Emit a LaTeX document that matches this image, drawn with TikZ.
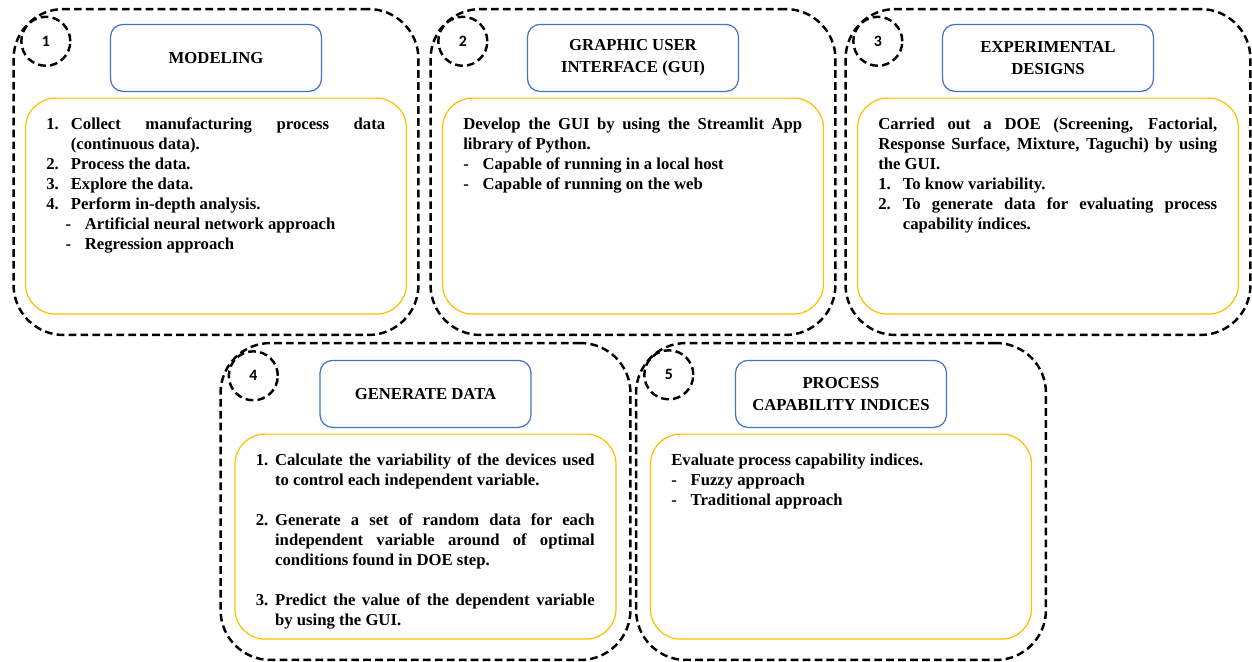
\documentclass[tikz,border=0pt]{standalone}
\usepackage{fontspec}
\setmainfont{Liberation Serif}
\newfontfamily\numfont{Carlito}
\usepackage{xcolor}
\usepackage{tikz}
\usetikzlibrary{positioning}
\definecolor{titleblue}{HTML}{4472C4}
\definecolor{boxgold}{HTML}{FFC000}
% list line with a hanging label
\newcommand{\itm}[3][14pt]{%
  \hangindent=#1\hangafter=1\noindent\makebox[#1][l]{#2}#3\par}
\newcommand{\gap}{\vspace{\baselineskip}}
\tikzset {
  % dashed outer frame of a step
  panel/.style={draw, line width=1.4pt, dash pattern=on 4.4pt off 2.4pt, rounded corners=1cm},
  toppanel/.style={panel, minimum width=8.1cm, minimum height=6.52cm},
  botpanel/.style={panel, minimum width=8.2cm, minimum height=6.34cm},
  % dashed circle with the step number
  num/.style={draw, circle, line width=1.4pt, dash pattern=on 4.4pt off 2.4pt, minimum size=0.98cm,
    inner sep=0pt, font=\numfont\bfseries\fontsize{9}{10}\selectfont},
  % blue heading box
  title/.style={draw=titleblue, line width=0.7pt, rounded corners=0.25cm, minimum width=4.22cm,
    minimum height=1.34cm, align=center, font=\bfseries\fontsize{9.5}{12.5}\selectfont},
  % gold box for the description
  body/.style={draw=boxgold, line width=0.7pt, rounded corners=0.6cm, minimum width=7.62cm},
  topbody/.style={body, minimum height=4.32cm},
  botbody/.style={body, minimum height=4.1cm},
  txt/.style={text width=6.78cm, inner sep=0pt, anchor=base west, align=justify,
    font=\bfseries\fontsize{9.5}{11.4}\selectfont},
}

\begin{document}
\begin{tikzpicture}[x=0.02cm, y=-0.02cm]
  \useasboundingbox (0,0) rectangle (1252,662);

  % step 1
  \node[toppanel] (p1) at (216,172) {};
  \node[num] (n1) at ([xshift=0.67cm, yshift=-0.67cm]p1.north west) {1};
  \node[title, below=0.32cm of p1.north] (t1) {MODELING};
  \node[topbody, below=0.11cm of t1] (b1) {};
  \node[txt] (x1) at ([xshift=0.42cm, yshift=-0.63cm]b1.north west) {%
    \itm{1.}{Collect manufacturing process data \linebreak (continuous data).}
    \itm{2.}{Process the data.}
    \itm{3.}{Explore the data.}
    \itm{4.}{Perform in-depth analysis.}
    \itm[22pt]{\hspace*{11pt}-}{Artificial neural network approach}
    \itm[22pt]{\hspace*{11pt}-}{Regression approach}};

  % step 2
  \node[toppanel] (p2) at (633,172) {};
  \node[num] (n2) at ([xshift=0.67cm, yshift=-0.67cm]p2.north west) {2};
  \node[title, below=0.32cm of p2.north] (t2) {GRAPHIC USER\\INTERFACE (GUI)};
  \node[topbody, below=0.11cm of t2] (b2) {};
  \node[txt] (x2) at ([xshift=0.42cm, yshift=-0.63cm]b2.north west) {%
    Develop the GUI by using the Streamlit App \linebreak library of Python.\par
    \itm[11pt]{-}{Capable of running in a local host}
    \itm[11pt]{-}{Capable of running on the web}};

  % step 3
  \node[toppanel] (p3) at (1048,172) {};
  \node[num] (n3) at ([xshift=0.67cm, yshift=-0.67cm]p3.north west) {3};
  \node[title, below=0.32cm of p3.north] (t3) {EXPERIMENTAL\\DESIGNS};
  \node[topbody, below=0.11cm of t3] (b3) {};
  \node[txt] (x3) at ([xshift=0.42cm, yshift=-0.63cm]b3.north west) {%
    Carried out a DOE (Screening, Factorial, \linebreak Response Surface, Mixture, Taguchi) by using \linebreak the GUI.\par
    \itm{1.}{To know variability.}
    \itm{2.}{To generate data for evaluating process \linebreak capability índices.}};

  % step 4
  \node[botpanel] (p4) at (425.5,501.5) {};
  \node[num] (n4) at ([xshift=0.68cm, yshift=-0.68cm]p4.north west) {4};
  \node[title, below=0.36cm of p4.north] (t4) {GENERATE DATA};
  \node[botbody, below=0.11cm of t4] (b4) {};
  \node[txt] (x4) at ([xshift=0.42cm, yshift=-0.63cm]b4.north west) {%
    \itm[11pt]{1.}{Calculate the variability of the devices used \linebreak to control each independent variable.}
    \gap
    \itm[11pt]{2.}{Generate a set of random data for each \linebreak independent variable around of optimal \linebreak conditions found in DOE step.}
    \gap
    \itm[11pt]{3.}{Predict the value of the dependent variable \linebreak by using the GUI.}};

  % step 5
  \node[botpanel] (p5) at (841,501.5) {};
  \node[num] (n5) at ([xshift=0.68cm, yshift=-0.66cm]p5.north west) {5};
  \node[title, below=0.36cm of p5.north] (t5) {PROCESS\\CAPABILITY INDICES};
  \node[botbody, below=0.11cm of t5] (b5) {};
  \node[txt] (x5) at ([xshift=0.42cm, yshift=-0.63cm]b5.north west) {%
    Evaluate process capability indices.\par
    \itm[11pt]{-}{Fuzzy approach}
    \itm[11pt]{-}{Traditional approach}};
\end{tikzpicture}
\end{document}
